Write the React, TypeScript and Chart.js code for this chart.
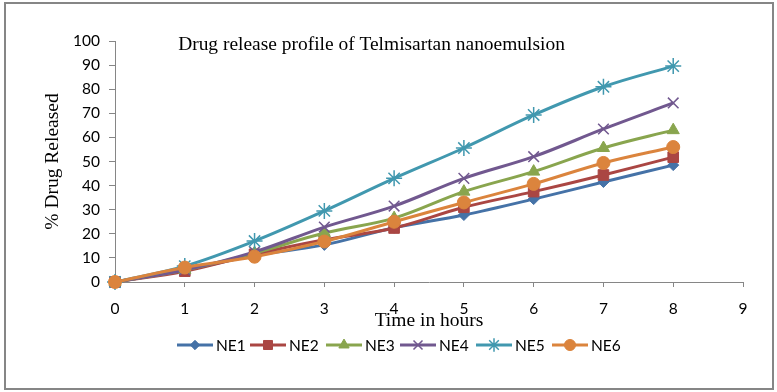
import React, { useEffect, useRef } from "react";
import { Chart, registerables } from "chart.js";
import { drawPoint } from "chart.js/helpers";

Chart.register(...registerables);

const hours = [0, 1, 2, 3, 4, 5, 6, 7, 8];
const seriesNames = ["NE1", "NE2", "NE3", "NE4", "NE5", "NE6"];
const ne1 = [0, 5, 11, 15.4, 22.5, 27.8, 34.4, 41.5, 48.5];
const ne2 = [0, 4.5, 11.5, 17.5, 22.4, 31, 37.5, 44.4, 51.8];
const ne3 = [0, 5, 12, 20.3, 26.5, 37.5, 45.8, 55.6, 63];
const ne4 = [0, 5, 12.5, 22.8, 31.5, 43, 52, 63.5, 74.3];
const ne5 = [0, 6.6, 17, 29.5, 43, 55.6, 69.3, 81, 89.6];
const ne6 = [0, 6, 10.5, 16.8, 25, 33, 40.7, 49.4, 56];
const seriesValues = [ne1, ne2, ne3, ne4, ne5, ne6];
const yTicks = [0, 10, 20, 30, 40, 50, 60, 70, 80, 90, 100];
const xTicks = [0, 1, 2, 3, 4, 5, 6, 7, 8, 9];
const titleText = "Drug release profile of Telmisartan nanoemulsion";
const xTitle = "Time in hours";
const yTitle = "% Drug Released";

const colors = ["#4572A7", "#AA4643", "#89A54E", "#71588F", "#4198AF", "#DB843D"];
const pointStyles = ["rectRot", "rect", "triangle", "crossRot", "star", "circle"];
const pointRadii = [5.5, 7.5, 7, 7.5, 8, 6.5];
const pointBorders = [1, 1, 1, 1.5, 1.5, 1];
const legendX = [177, 250, 326, 400, 476, 552];

const TICK_FONT = "Lato, 'Open Sans', sans-serif";
const SERIF = "'Liberation Serif', 'DejaVu Serif', serif";

const framePlugin = {
  id: "frame",
  beforeDraw(chart: any) {
    const ctx = chart.ctx;
    ctx.save();
    ctx.fillStyle = "#ffffff";
    ctx.fillRect(0, 0, chart.width, chart.height);
    ctx.strokeStyle = "#868686";
    ctx.lineWidth = 2;
    ctx.strokeRect(5, 3, 768, 386);
    ctx.restore();
  },
  afterDraw(chart: any) {
    const ctx = chart.ctx;
    const area = chart.chartArea;
    ctx.save();
    ctx.font = `100px ${SERIF}`;
    const w100 = ctx.measureText(titleText).width;
    const size = (387 / w100) * 100;
    ctx.font = `${size}px ${SERIF}`;
    ctx.fillStyle = "#000";
    ctx.textAlign = "center";
    ctx.textBaseline = "alphabetic";
    ctx.fillText(titleText, 371.5, area.top + 9);
    const ly = 345;
    ctx.font = `15.5px ${TICK_FONT}`;
    ctx.textAlign = "left";
    ctx.textBaseline = "middle";
    seriesNames.forEach((name, i) => {
      const x0 = legendX[i];
      const x1 = x0 + 36;
      ctx.strokeStyle = colors[i];
      ctx.lineWidth = 3;
      ctx.beginPath();
      ctx.moveTo(x0, ly);
      ctx.lineTo(x1, ly);
      ctx.stroke();
      ctx.fillStyle = colors[i];
      ctx.strokeStyle = colors[i];
      ctx.lineWidth = pointBorders[i];
      drawPoint(
        ctx,
        { pointStyle: pointStyles[i], radius: pointRadii[i] * 0.85, borderWidth: pointBorders[i], rotation: 0 } as any,
        (x0 + x1) / 2,
        ly
      );
      ctx.fillStyle = "#000";
      ctx.fillText(name, x1 + 3, ly + 1);
    });
    ctx.restore();
  },
};

export default function App() {
  const ref = useRef<HTMLCanvasElement>(null);
  useEffect(() => {
    if (!ref.current) return;
    const chart = new Chart(ref.current, {
      type: "line",
      data: {
        datasets: seriesValues.map((vals, i) => ({
          label: seriesNames[i],
          data: vals.map((v, j) => ({ x: hours[j], y: v })),
          borderColor: colors[i],
          backgroundColor: colors[i],
          borderWidth: 3,
          pointStyle: pointStyles[i] as any,
          pointRadius: pointRadii[i],
          pointBorderWidth: pointBorders[i],
          pointBorderColor: colors[i],
          pointBackgroundColor: colors[i],
          tension: 0.35,
          fill: false,
          clip: false as any,
          order: seriesNames.length - i,
        })),
      },
      options: {
        animation: false,
        responsive: false,
        maintainAspectRatio: false,
        layout: { padding: { left: 0, top: 41, right: 34, bottom: 0 } },
        plugins: {
          legend: { display: false },
          tooltip: { enabled: false },
          title: { display: false },
        },
        scales: {
          x: {
            type: "linear",
            min: 0,
            max: 9,
            afterFit: (s: any) => {
              s.height = 110;
            },
            afterBuildTicks: (s: any) => {
              s.ticks = xTicks.map((v) => ({ value: v }));
            },
            ticks: {
              autoSkip: false,
              maxRotation: 0,
              padding: 13,
              color: "#000",
              font: { family: TICK_FONT, size: 15.5 },
            },
            grid: { drawOnChartArea: false, drawTicks: true, tickLength: 5, color: "#868686" },
            border: { color: "#868686", width: 1 },
            title: {
              display: true,
              text: xTitle,
              color: "#000",
              font: { family: SERIF, size: 19.5 },
              padding: { top: 0, bottom: 59 },
            },
          },
          y: {
            type: "linear",
            min: 0,
            max: 100,
            afterFit: (s: any) => {
              s.width = 115;
            },
            afterBuildTicks: (s: any) => {
              s.ticks = yTicks.map((v) => ({ value: v }));
            },
            ticks: {
              autoSkip: false,
              padding: 9,
              color: "#000",
              font: { family: TICK_FONT, size: 15.5 },
            },
            grid: { drawOnChartArea: false, drawTicks: true, tickLength: 6, color: "#868686" },
            border: { color: "#868686", width: 1 },
            title: {
              display: true,
              text: yTitle,
              color: "#000",
              font: { family: SERIF, size: 19.5 },
              padding: { top: 41, bottom: 0 },
            },
          },
        },
      },
      plugins: [framePlugin],
    });
    return () => chart.destroy();
  }, []);
  return (
    <div style={{ position: "fixed", left: 0, top: 0, width: 777, height: 392 }}>
      <canvas ref={ref} width={777} height={392} style={{ width: 777, height: 392, display: "block" }} />
    </div>
  );
}
